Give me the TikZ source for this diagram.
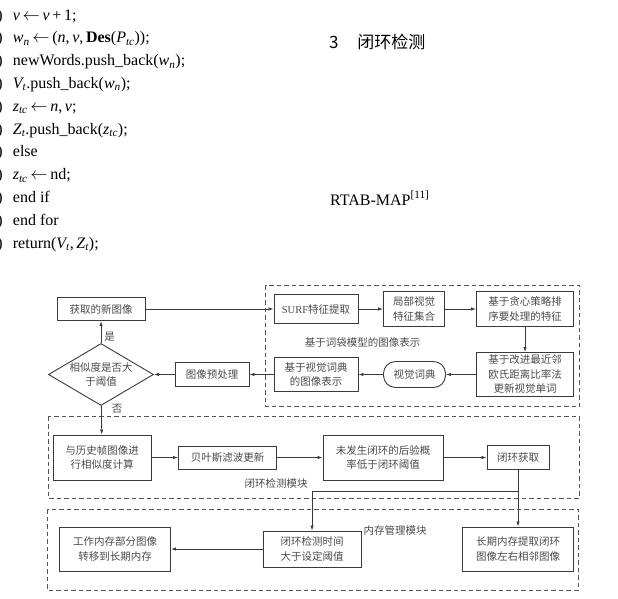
\documentclass[tikz,border=0pt]{standalone}
\usepackage{fontspec}
\setmainfont{Liberation Serif}
\newfontfamily\cjk{Noto Sans CJK SC}
\usetikzlibrary{arrows.meta, shapes.geometric}

\definecolor{inkgray}{HTML}{3A3A3A}
\definecolor{txtgray}{HTML}{4A4A4A}
\definecolor{dashgray}{HTML}{555555}

\begin{document}
\begin{tikzpicture}[
  x=1pt, y=-1pt,
  box/.style n args={2}{draw=inkgray, line width=0.9pt, minimum width=#1, minimum height=#2, align=center, inner sep=1pt, font=\cjk\fontsize{10.5}{14.5}\selectfont, text=txtgray},
  term/.style={draw=inkgray, line width=0.9pt, rounded corners=12pt, minimum width=62pt, minimum height=26pt, align=center, font=\cjk\fontsize{10.5}{14.5}\selectfont, text=txtgray},
  decision/.style={draw=inkgray, line width=0.9pt, diamond, minimum width=105pt, minimum height=62pt, inner sep=1pt, align=center, font=\cjk\fontsize{10.5}{14.5}\selectfont, text=txtgray},
  grp/.style={draw=dashgray, line width=0.9pt, dash pattern=on 4.5pt off 3pt},
  lbl/.style={font=\cjk\fontsize{10.5}{14.5}\selectfont, text=txtgray, inner sep=1pt},
  algo/.style={anchor=base west, inner sep=0pt, font=\fontsize{16}{20}\selectfont},
  arr/.style={-{Latex[length=5pt, width=3.4pt]}, draw=inkgray, line width=0.8pt}
]
\useasboundingbox (0,0) rectangle (618,598);

% page text above the figure
\foreach \txt [count=\i from 0] in {
  {{\itshape v}\,$\leftarrow$\,{\itshape v}\,+\,1;},
  {{\itshape w}\textsubscript{\itshape n}\,$\leftarrow$\,({\itshape n},\,{\itshape v},\,\textbf{Des}({\itshape P}\textsubscript{\itshape tc}));},
  {newWords.push\_back({\itshape w}\textsubscript{\itshape n});},
  {{\itshape V}\textsubscript{\itshape t}.push\_back({\itshape w}\textsubscript{\itshape n});},
  {{\itshape z}\textsubscript{\itshape tc}\,$\leftarrow$\,{\itshape n},\,{\itshape v};},
  {{\itshape Z}\textsubscript{\itshape t}.push\_back({\itshape z}\textsubscript{\itshape tc});},
  {else},
  {{\itshape z}\textsubscript{\itshape tc}\,$\leftarrow$\,nd;},
  {end if},
  {end for},
  {return({\itshape V}\textsubscript{\itshape t},\,{\itshape Z}\textsubscript{\itshape t});}} {
  \node[algo] (alg\i) at (12.7, 20+22.8*\i) {\txt};
  \node[algo, anchor=base east] (num\i) at (3, 20+22.8*\i) {)};
}
\node[anchor=base west, inner sep=0pt, font=\cjk\fontsize{17}{17}\selectfont] (sechead) at (329,48) {3\hspace{1.1em}闭环检测};
\node[algo] (rtab) at (330,205) {RTAB-MAP\textsuperscript{[11]}};

% bag-of-words image representation
\draw[grp] (265.7,285) rectangle (579.3,406.7);
\node[box={88pt}{23pt}] (newimg) at (101,309) {获取的新图像};
\node[box={84pt}{29pt}] (surf) at (316,309) {\textrm{SURF}特征提取};
\node[box={61pt}{35pt}] (localfeat) at (414,309) {局部视觉\\特征集合};
\node[box={97pt}{35pt}] (greedy) at (525,309) {基于贪心策略排\\序要处理的特征};
\node[box={97pt}{44pt}] (nnratio) at (525,374.5) {基于改进最近邻\\欧氏距离比率法\\更新视觉单词};
\node[term] (vocab) at (414.5,374.5) {视觉词典};
\node[box={84pt}{34pt}] (bowrep) at (316,374.5) {基于视觉词典\\的图像表示};
\node[box={74pt}{24pt}] (prep) at (212,374.5) {图像预处理};
\node[decision] (simdec) at (101,374.5) {\makebox[0pt]{相似度是否大}\\\makebox[0pt]{于阈值}};
\node[lbl] (bowlbl) at (362.7,342.7) {基于词袋模型的图像表示};

% loop closure detection module
\draw[grp] (48.3,416.7) rectangle (579.3,498.3);
\node[box={98pt}{45pt}] (histsim) at (102,457.5) {与历史帧图像进\\行相似度计算};
\node[box={98pt}{23pt}] (bayes) at (227.5,457.5) {贝叶斯滤波更新};
\node[box={120pt}{45pt}] (posterior) at (383,457.5) {未发生闭环的后验概\\率低于闭环阈值};
\node[box={62pt}{24pt}] (loopget) at (518,457.5) {闭环获取};
\node[lbl] (looplbl) at (276,483.3) {闭环检测模块};

% memory management module
\draw[grp] (47.3,509) rectangle (578.3,590);
\node[box={111pt}{44pt}] (wmtrans) at (115,549) {工作内存部分图像\\转移到长期内存};
\node[box={98pt}{36pt}] (looptime) at (312,549) {闭环检测时间\\大于设定阈值};
\node[box={111pt}{44pt}] (ltmfetch) at (518,549) {长期内存提取闭环\\图像左右相邻图像};
\node[lbl] (memlbl) at (395,530.7) {内存管理模块};
\coordinate (split) at (518,491.7);

\draw[arr] (newimg) -- (surf);
\draw[arr] (surf) -- (localfeat);
\draw[arr] (localfeat) -- (greedy);
\draw[arr] (greedy) -- (nnratio);
\draw[arr] (nnratio) -- (vocab);
\draw[arr] (vocab) -- (bowrep);
\draw[arr] (bowrep) -- (prep);
\draw[arr] (prep) -- (simdec);
\draw[arr] (simdec) -- node[lbl, right=2pt, pos=0.3] {是} (newimg);
\draw[arr] (simdec) -- node[lbl, right=9pt, pos=0.12] {否} (histsim);

\draw[arr] (histsim) -- (bayes);
\draw[arr] (bayes) -- (posterior);
\draw[arr] (posterior) -- (loopget);
\draw[arr] (loopget) -- (split) -| (looptime);
\draw[arr] (split) -- (ltmfetch);
\draw[arr] (looptime) -- (wmtrans);

\end{tikzpicture}
\end{document}
